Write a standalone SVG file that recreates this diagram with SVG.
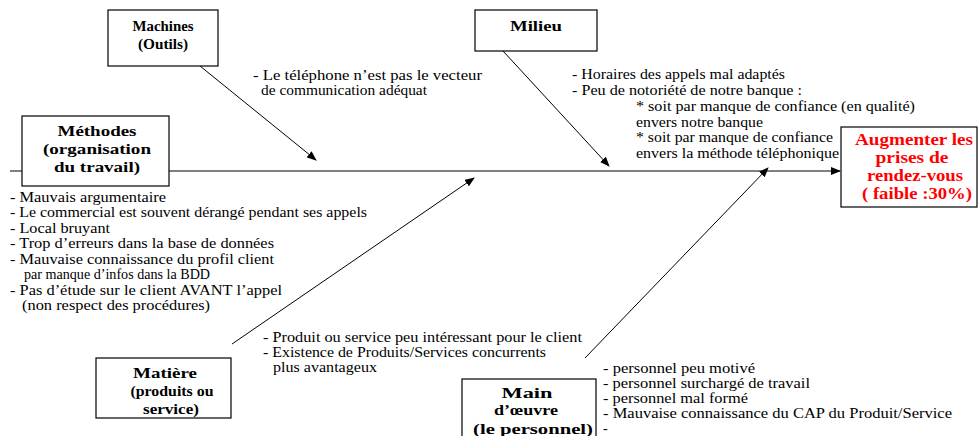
<svg xmlns="http://www.w3.org/2000/svg" width="978" height="436" viewBox="0 0 978 436" font-family="Liberation Serif, Times New Roman, serif">
<style>
.box{fill:#fff;stroke:#000;stroke-width:1.2}
text{font-family:'Liberation Serif','Times New Roman',serif}
.t{font-size:14px;fill:#000}
.h{font-size:15px;font-weight:bold;fill:#000;text-anchor:middle}
.r{font-size:16px;font-weight:bold;fill:#ff0000;text-anchor:middle}
.c{stroke:#000;stroke-width:1;fill:none;marker-end:url(#ah)}
</style>
<defs>
<marker id="ah" markerUnits="userSpaceOnUse" markerWidth="10" markerHeight="8" refX="9" refY="4" orient="auto">
<path d="M0,0 L10,4 L0,8 Z" fill="#000"/>
</marker>
</defs>
<rect width="978" height="436" fill="#fff"/>
<g id="connectors">
<line class="c" x1="10" y1="171" x2="840" y2="171"/>
<line class="c" x1="200" y1="66" x2="316" y2="160"/>
<line class="c" x1="503" y1="51" x2="609" y2="166"/>
<line class="c" x1="232" y1="344" x2="474" y2="178"/>
<line class="c" x1="585" y1="358" x2="768" y2="168"/>
</g>
<g id="machines">
<rect class="box" x="108" y="10" width="110" height="56"/>
<text class="h" x="163" y="31" textLength="61" lengthAdjust="spacingAndGlyphs">Machines</text>
<text class="h" x="163" y="49" textLength="50" lengthAdjust="spacingAndGlyphs">(Outils)</text>
<text class="t" x="253" y="80" textLength="229" lengthAdjust="spacingAndGlyphs">- Le téléphone n’est pas le vecteur</text>
<text class="t" x="261" y="95" textLength="166" lengthAdjust="spacingAndGlyphs">de communication adéquat</text>
</g>
<g id="milieu">
<rect class="box" x="475" y="10" width="122" height="41"/>
<text class="h" x="536" y="31" textLength="52" lengthAdjust="spacingAndGlyphs">Milieu</text>
<text class="t" x="572" y="79" textLength="213" lengthAdjust="spacingAndGlyphs">- Horaires des appels mal adaptés</text>
<text class="t" x="572" y="95" textLength="230" lengthAdjust="spacingAndGlyphs">- Peu de notoriété de notre banque :</text>
<text class="t" x="636" y="111" textLength="279" lengthAdjust="spacingAndGlyphs">* soit par manque de confiance (en qualité)</text>
<text class="t" x="636" y="127" textLength="127" lengthAdjust="spacingAndGlyphs">envers notre banque</text>
<text class="t" x="636" y="142" textLength="197" lengthAdjust="spacingAndGlyphs">* soit par manque de confiance</text>
<text class="t" x="636" y="158" textLength="203" lengthAdjust="spacingAndGlyphs">envers la méthode téléphonique</text>
</g>
<g id="methodes">
<rect class="box" x="22" y="116" width="147" height="70"/>
<text class="h" x="97" y="136" textLength="79" lengthAdjust="spacingAndGlyphs">Méthodes</text>
<text class="h" x="97" y="154" textLength="108" lengthAdjust="spacingAndGlyphs">(organisation</text>
<text class="h" x="97" y="172" textLength="86" lengthAdjust="spacingAndGlyphs">du travail)</text>
<text class="t" x="10" y="202" textLength="156" lengthAdjust="spacingAndGlyphs">- Mauvais argumentaire</text>
<text class="t" x="10" y="217" textLength="357" lengthAdjust="spacingAndGlyphs">- Le commercial est souvent dérangé pendant ses appels</text>
<text class="t" x="10" y="233" textLength="100" lengthAdjust="spacingAndGlyphs">- Local bruyant</text>
<text class="t" x="10" y="248" textLength="264" lengthAdjust="spacingAndGlyphs">- Trop d’erreurs dans la base de données</text>
<text class="t" x="10" y="264" textLength="264" lengthAdjust="spacingAndGlyphs">- Mauvaise connaissance du profil client</text>
<text class="t" x="24" y="279" textLength="186" lengthAdjust="spacingAndGlyphs">par manque d’infos dans la BDD</text>
<text class="t" x="10" y="295" textLength="272" lengthAdjust="spacingAndGlyphs">- Pas d’étude sur le client AVANT l’appel</text>
<text class="t" x="22" y="310" textLength="188" lengthAdjust="spacingAndGlyphs">(non respect des procédures)</text>
</g>
<g id="effet">
<rect class="box" x="841" y="127" width="136" height="80"/>
<text class="r" x="914" y="145" textLength="118" lengthAdjust="spacingAndGlyphs">Augmenter les</text>
<text class="r" x="912" y="163" textLength="73" lengthAdjust="spacingAndGlyphs">prises de</text>
<text class="r" x="915" y="181" textLength="96" lengthAdjust="spacingAndGlyphs">rendez-vous</text>
<text class="r" x="917" y="199" textLength="110" lengthAdjust="spacingAndGlyphs">( faible :30%)</text>
</g>
<g id="matiere">
<rect class="box" x="96" y="358" width="135" height="60"/>
<text class="h" x="165" y="378" textLength="64" lengthAdjust="spacingAndGlyphs">Matière</text>
<text class="h" x="172" y="396" textLength="83" lengthAdjust="spacingAndGlyphs">(produits ou</text>
<text class="h" x="171" y="414" textLength="56" lengthAdjust="spacingAndGlyphs">service)</text>
<text class="t" x="263" y="342" textLength="319" lengthAdjust="spacingAndGlyphs">- Produit ou service peu intéressant pour le client</text>
<text class="t" x="263" y="357" textLength="283" lengthAdjust="spacingAndGlyphs">- Existence de Produits/Services concurrents</text>
<text class="t" x="273" y="372" textLength="104" lengthAdjust="spacingAndGlyphs">plus avantageux</text>
</g>
<g id="main-oeuvre">
<rect class="box" x="462" y="379" width="134" height="62"/>
<text class="h" x="527" y="398" textLength="51" lengthAdjust="spacingAndGlyphs">Main</text>
<text class="h" x="526" y="415" textLength="64" lengthAdjust="spacingAndGlyphs">d’œuvre</text>
<text class="h" x="533" y="434" textLength="120" lengthAdjust="spacingAndGlyphs">(le personnel)</text>
<text class="t" x="603" y="373" textLength="152" lengthAdjust="spacingAndGlyphs">- personnel peu motivé</text>
<text class="t" x="603" y="388" textLength="207" lengthAdjust="spacingAndGlyphs">- personnel surchargé de travail</text>
<text class="t" x="603" y="403" textLength="145" lengthAdjust="spacingAndGlyphs">- personnel mal formé</text>
<text class="t" x="603" y="418" textLength="349" lengthAdjust="spacingAndGlyphs">- Mauvaise connaissance du CAP du Produit/Service</text>
<text class="t" x="603" y="433">-</text>
</g>
</svg>
